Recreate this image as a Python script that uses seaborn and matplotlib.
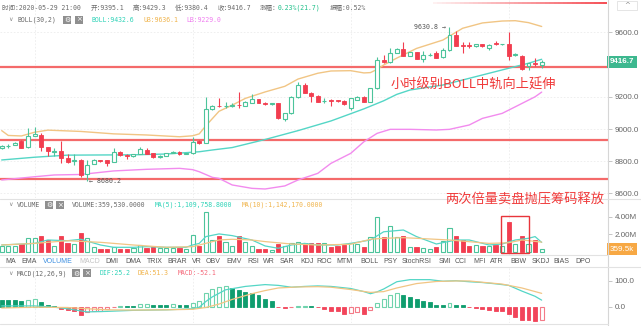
import numpy as np
import pandas as pd
import matplotlib
matplotlib.use("Agg")
import matplotlib.pyplot as plt
import seaborn as sns
from matplotlib.patches import Rectangle
from matplotlib.lines import Line2D
from matplotlib.collections import LineCollection
from matplotlib.transforms import blended_transform_factory

sns.set_style("white")
plt.rcParams["font.family"] = ["DejaVu Sans", "Noto Sans CJK SC"]

# ---------------- hourly candles (BTC/USDT) ----------------
opens = [8882, 8893, 8902, 8928, 8886, 8958, 8965, 8887, 8858, 8866,
         8820, 8803, 8808, 8722, 8784, 8805, 8805, 8797, 8856, 8840,
         8830, 8846, 8872, 8850, 8826, 8832, 8852, 8860, 8848, 8850,
         8923, 8915, 9124, 9145, 9141, 9145, 9152, 9145, 9163, 9184,
         9163, 9155, 9160, 9063, 9097, 9200, 9273, 9226, 9205, 9172,
         9182, 9176, 9174, 9130, 9182, 9200, 9170, 9253, 9428, 9414,
         9474, 9498, 9454, 9476, 9435, 9458, 9470, 9445, 9490, 9583,
         9521, 9518, 9512, 9526, 9502, 9532, 9526, 9527, 9458, 9455,
         9390, 9410, 9395.1]
highs = [8900, 8905, 8918, 8930, 9005, 9010, 8978, 8890, 8880, 8928,
         8848, 8848, 8812, 8806, 8812, 8808, 8807, 8880, 8866, 8843,
         8848, 8890, 8882, 8853, 8838, 8852, 8862, 8866, 8852, 8949,
         8930, 9200, 9150, 9190, 9170, 9162, 9232, 9175, 9215, 9188,
         9166, 9162, 9163, 9100, 9205, 9293, 9285, 9230, 9210, 9190,
         9186, 9180, 9178, 9195, 9206, 9204, 9256, 9445, 9460, 9500,
         9500, 9538, 9480, 9480, 9486, 9470, 9482, 9500, 9630.8, 9605,
         9540, 9540, 9530, 9530, 9530, 9548, 9530, 9600, 9472, 9458,
         9412, 9440, 9429.3]
lows = [8875, 8885, 8898, 8882, 8880, 8955, 8866, 8835, 8830, 8792,
        8790, 8778, 8704, 8680.2, 8780, 8798, 8770, 8795, 8835, 8812,
        8826, 8843, 8843, 8822, 8822, 8830, 8850, 8838, 8846, 8848,
        8910, 8912, 9115, 9135, 9130, 9138, 9130, 9140, 9160, 9160,
        9150, 9150, 9060, 9052, 9095, 9195, 9222, 9170, 9166, 9160,
        9143, 9165, 9148, 9120, 9178, 9168, 9168, 9250, 9410, 9410,
        9470, 9450, 9450, 9432, 9418, 9452, 9438, 9440, 9485, 9512,
        9472, 9505, 9508, 9510, 9490, 9524, 9520, 9430, 9452, 9366,
        9368, 9388, 9380.4]
closes = [8894, 8896, 8913, 8884, 8957, 8970, 8890, 8862, 8862, 8818,
          8797, 8806, 8716, 8778, 8806, 8801, 8792, 8858, 8838, 8830,
          8845, 8879, 8846, 8826, 8834, 8849, 8859, 8842, 8851, 8921,
          8913, 9122, 9142, 9141, 9144, 9150, 9146, 9170, 9184, 9163,
          9154, 9158, 9066, 9097, 9200, 9273, 9226, 9206, 9170, 9176,
          9174, 9173, 9154, 9190, 9200, 9170, 9253, 9428, 9416, 9473,
          9495, 9454, 9476, 9435, 9460, 9462, 9441, 9490, 9583, 9516,
          9515, 9516, 9525, 9512, 9524, 9527, 9528, 9453, 9468, 9372,
          9408, 9404, 9416.7]

# volume, millions
volume_m = [0.71, 0.71, 0.71, 0.90, 1.64, 1.64, 1.87, 1.38, 0.71, 1.87,
            1.01, 0.90, 2.13, 1.57, 0.56, 0.34, 0.41, 0.56, 0.34, 0.37,
            0.45, 0.82, 0.45, 0.64, 0.45, 0.45, 0.45, 0.45, 0.34, 1.94,
            0.75, 4.56, 1.38, 1.83, 1.20, 0.75, 1.87, 1.12, 0.71, 0.37,
            0.37, 0.26, 0.93, 0.71, 1.08, 1.20, 1.01, 1.08, 1.01, 1.01,
            0.64, 0.71, 0.82, 1.01, 0.90, 0.56, 1.76, 4.00, 1.76, 2.95,
            1.76, 1.83, 0.56, 0.56, 0.45, 0.37, 0.56, 1.31, 2.69, 1.83,
            1.38, 0.71, 0.82, 0.71, 0.71, 0.82, 0.71, 3.44, 0.93, 1.83,
            0.93, 1.38, 0.35953]

# MACD histogram
macd_hist = [27, 26, 24, 22, 27, 29, 18, 8, 3, -10,
             -12, -15, -30, -22, -18, -15, -10, -3, 4, 4,
             4, 10, 11, 8, 7, 6, 9, 8, 7, 16,
             22, 52, 69, 76, 78, 73, 63, 56, 52, 44,
             31, 22, -2, -4, -3, 3, 4, 2, -2, -10,
             -15, -15, -27, -23, -22, -27, -12, 14, 31, 44,
             52, 46, 37, 28, 22, 18, 8, 6, 14, 6,
             5, -3, -5, -8, -12, -15, -17, -27, -40, -50,
             -53, -56, -52.1]

# BOLL(30,2) bands, read at candle positions
ub_at = [0, 1, 3, 5, 7, 12, 17, 22, 27, 29, 30, 31, 32, 33, 35, 37, 40, 43,
         45, 48, 50, 53, 55, 56, 57, 58, 60, 63, 67, 70, 73, 76, 78, 80, 82]
ub_val = [8990, 8960, 8957, 8980, 8993, 8985, 8970, 8963, 8952, 8958, 8970,
          9020, 9065, 9110, 9148, 9190, 9230, 9265, 9310, 9346, 9360, 9362,
          9348, 9350, 9370, 9397, 9440, 9500, 9552, 9625, 9658, 9670, 9672,
          9660, 9636.1]
mid_at = [0, 5, 10, 15, 20, 25, 30, 32, 35, 40, 45, 50, 55, 58, 60, 62, 67,
          72, 77, 80, 82]
mid_val = [8808, 8825, 8838, 8839, 8840, 8845, 8859, 8870, 8885, 8935, 8990,
           9050, 9125, 9175, 9215, 9242, 9273, 9325, 9377, 9408, 9432.6]
lb_at = [0, 5, 8, 12, 17, 22, 27, 29, 30, 32, 33, 35, 38, 40, 43, 45, 48,
         50, 53, 55, 57, 59, 62, 66, 68, 71, 73, 76, 78, 81, 82]
lb_val = [8684, 8704, 8715, 8718, 8740, 8750, 8756, 8748, 8735, 8700, 8694,
          8653, 8632, 8628, 8647, 8684, 8725, 8787, 8849, 8921, 8973, 8998,
          8998, 8994, 8998, 9025, 9066, 9097, 9138, 9200, 9229.0]

# volume moving averages (millions)
ma5_at = [0, 5, 7, 10, 12, 15, 17, 20, 22, 25, 28, 29, 30, 31, 33, 35, 38,
          40, 42, 44, 46, 48, 51, 53, 56, 58, 61, 63, 66, 69, 71, 74, 76, 78,
          80, 81, 82]
ma5_val = [0.82, 1.0, 1.38, 1.3, 1.46, 0.82, 0.56, 0.56, 0.63, 0.56, 0.56,
           0.82, 1.0, 1.76, 2.06, 1.87, 1.38, 0.71, 0.45, 0.82, 1.0, 0.82,
           0.82, 1.0, 1.38, 2.3, 2.5, 1.76, 0.93, 1.38, 1.38, 0.82, 0.93,
           1.38, 1.57, 1.76, 1.1097588]
ma10_at = [0, 5, 10, 15, 20, 25, 29, 33, 35, 38, 40, 44, 48, 53, 56, 58, 61,
           63, 68, 74, 77, 79, 82]
ma10_val = [0.82, 1.0, 1.3, 1.12, 0.82, 0.56, 0.63, 1.38, 1.46, 1.38, 1.2,
            0.93, 0.82, 0.9, 1.46, 1.57, 1.64, 1.57, 1.38, 1.0, 1.07, 1.38,
            1.14217]

# MACD(12,26,9) lines
dif_at = [0, 5, 8, 10, 13, 16, 20, 25, 29, 30, 31, 32, 34, 37, 40, 42, 44,
          46, 48, 50, 53, 55, 56, 57, 58, 60, 62, 65, 67, 69, 71, 73, 75, 77,
          79, 81, 82]
dif_val = [3, 3, -2, -8, -20, -18, -14, -12, -8, -2, 20, 38, 65, 78, 85, 82,
           75, 78, 80, 78, 70, 58, 50, 57, 68, 96, 104, 104, 98, 100, 96, 93,
           88, 82, 60, 40, 25.2]
dea_at = [0, 5, 10, 13, 16, 20, 25, 29, 31, 33, 35, 38, 40, 42, 45, 48, 50,
          53, 56, 58, 60, 63, 66, 69, 71, 73, 76, 79, 82]
dea_val = [-5, -2, -3, -8, -12, -13, -12, -10, -3, 10, 28, 50, 62, 72, 76,
           77, 75, 66, 55, 58, 72, 89, 97, 99, 99, 94, 87, 72, 51.3]

# drawn levels
level_prices = [9383, 8932, 8688]
top_level = 9780
price_ticks = [8600, 8800, 9000, 9200, 9600]
last_price = 9416.7

menu_items = ["MA", "EMA", "VOLUME", "MACD", "DMI", "DMA", "TRIX", "BRAR",
              "VR", "OBV", "EMV", "RSI", "WR", "SAR", "KDJ", "ROC", "MTM",
              "BOLL", "PSY", "StochRSI", "SMI", "CCI", "MFI", "ATR", "BBW",
              "SKDJ", "BIAS", "DPO"]
menu_x = [5, 21.7, 42.7, 79.3, 105, 125, 146.7, 167.7, 191.7, 206, 226.7,
          247.3, 263.3, 280, 300, 316.7, 336.7, 360, 383.3, 401.7, 438.3,
          455, 473.3, 490, 510, 531.7, 553.3, 575]

# ---------------- styling ----------------
UP = "#4cc49b"
DOWN = "#f23d4f"
MID_C = "#54d6c6"
UB_C = "#f1c584"
LB_C = "#f28bee"
GRAY = "#6a6a6a"
LEVEL_C = "#f46a6a"
MONO = ["DejaVu Sans Mono", "Noto Sans CJK SC"]
SANS = ["Liberation Sans", "DejaVu Sans"]

W, H = 641, 326
fig = plt.figure(figsize=(W / 100, H / 100), dpi=100)
fig.patch.set_facecolor("white")


def px_axes(l, t, r, b):
    return fig.add_axes([l / W, 1 - b / H, (r - l) / W, (b - t) / H])


def ftext(x, y, s, **kw):
    kw.setdefault("va", "center")
    kw.setdefault("ha", "left")
    return fig.text(x / W, 1 - y / H, s, **kw)


def fline(x0, y0, x1, y1, **kw):
    fig.add_artist(Line2D([x0 / W, x1 / W], [1 - y0 / H, 1 - y1 / H],
                          transform=fig.transFigure, **kw))


STEP = 6.585
X0 = 1.7
xlim = (-X0 / STEP, (607.5 - X0) / STEP)
n = len(closes)
xs = np.arange(n)
o = np.array(opens, float)
c = np.array(closes, float)
hi = np.array(highs, float)
lo = np.array(lows, float)
rising = c > o
grid_x = [5, 29, 53, 77]


def style_panel(ax, ylim, ticks, labels):
    ax.set_xlim(*xlim)
    ax.set_ylim(*ylim)
    ax.set_xticks([])
    ax.yaxis.tick_right()
    ax.set_yticks(ticks)
    ax.set_yticklabels(labels, family=SANS)
    ax.tick_params(axis="y", length=3, width=0.6, color="#bdbdbd", pad=2,
                   labelsize=5.8, labelcolor="#666666")
    for s in ax.spines.values():
        s.set_visible(False)
    ax.set_xlabel("")
    ax.set_ylabel("")
    ax.patch.set_alpha(0)
    for gx in grid_x:
        ax.axvline(gx, color="#ececec", lw=0.6, ls=(0, (2, 2)), zorder=0)


# ---------------- price panel ----------------
ax = px_axes(0, 0, 607.5, 198)
price_lim = (9600 - (198 - 32.3) * 6.2035, 9600 + 32.3 * 6.2035)
for p in price_ticks:
    ax.axhline(p, color="#ececec", lw=0.6, ls=(0, (2, 2)), zorder=0)
for p in level_prices:
    ax.axhline(p, color=LEVEL_C, lw=1.6, zorder=1.5)

# fading level line near the top edge
seg_x = np.linspace(65.5, xlim[1], 40)
segs = [[(seg_x[k], top_level), (seg_x[k + 1], top_level)] for k in range(39)]
alphas = np.linspace(0.08, 1.0, 39)
lc = LineCollection(segs, colors=[(0.96, 0.3, 0.33, a) for a in alphas], lw=1.4)
ax.add_collection(lc)

sns.lineplot(x=ub_at, y=ub_val, ax=ax, color=UB_C, linewidth=1.0, zorder=2)
sns.lineplot(x=mid_at, y=mid_val, ax=ax, color=MID_C, linewidth=1.0, zorder=2)
sns.lineplot(x=lb_at, y=lb_val, ax=ax, color=LB_C, linewidth=1.0, zorder=2)

body_w = 0.6
for i in range(n):
    col = UP if rising[i] else DOWN
    ax.vlines(xs[i], lo[i], hi[i], color=col, lw=0.8, zorder=3)
bot = np.minimum(o, c)
hgt = np.maximum(np.abs(c - o), 4.0)
ax.bar(xs[rising], hgt[rising], bottom=bot[rising], width=body_w,
       facecolor="white", edgecolor=UP, linewidth=0.8, zorder=4)
ax.bar(xs[~rising], hgt[~rising], bottom=bot[~rising], width=body_w,
       facecolor=DOWN, edgecolor=DOWN, linewidth=0.6, zorder=4)
style_panel(ax, price_lim, price_ticks, [f"{p:.1f}" for p in price_ticks])

i_hi = int(np.argmax(hi))
ax.annotate(f"{hi[i_hi]:.1f} \u2192", xy=(i_hi - 0.5, hi[i_hi]), ha="right",
            va="center", fontsize=4.8, color="#555555", family=MONO)
i_lo = int(np.argmin(lo))
ax.annotate(f"\u2190 {lo[i_lo]:.1f}", xy=(i_lo + 0.3, lo[i_lo]), ha="left",
            va="center", fontsize=4.8, color="#555555", family=MONO)

btr = blended_transform_factory(ax.transAxes, ax.transData)
ax.text(1.004, last_price, f"{last_price:.1f}", transform=btr, ha="left",
        va="center", fontsize=5.8, color="white", fontweight="bold",
        family=SANS, clip_on=False, zorder=10,
        bbox=dict(boxstyle="square,pad=0.35", fc="#3db88f", ec="none"))

# ---------------- volume panel ----------------
axv = px_axes(0, 199, 607.5, 255)
vol = np.array(volume_m)
vol_lim = ((252.3 - 255) / 8.92, (252.3 - 199) / 8.92)
axv.bar(xs[rising], vol[rising], width=0.64, facecolor="white",
        edgecolor=UP, linewidth=0.8, zorder=3)
axv.bar(xs[~rising], vol[~rising], width=0.64, facecolor=DOWN,
        edgecolor=DOWN, linewidth=0.6, zorder=3)
sns.lineplot(x=ma5_at, y=ma5_val, ax=axv, color=MID_C, linewidth=0.9, zorder=4)
sns.lineplot(x=ma10_at, y=ma10_val, ax=axv, color=UB_C, linewidth=0.9, zorder=4)
style_panel(axv, vol_lim, [2, 4], ["2.00M", "4.00M"])
btv = blended_transform_factory(axv.transAxes, axv.transData)
axv.text(1.004, vol[-1], f"{vol[-1] * 1000:.1f}k", transform=btv, ha="left",
         va="center", fontsize=5.8, color="white", family=SANS,
         clip_on=False, zorder=10,
         bbox=dict(boxstyle="square,pad=0.35", fc="#f7a844", ec="none"))

# ---------------- MACD panel ----------------
axm = px_axes(0, 267, 607.5, 323)
hist = np.array(macd_hist, float)
prev = np.concatenate([[np.inf], hist[:-1]])
grow = hist > prev
for i in range(n):
    col_f = "#0f9d6e" if hist[i] >= 0 else "#f2445a"
    col_h = "#6fd3ad" if hist[i] >= 0 else "#f47b88"
    if grow[i]:
        axm.bar(xs[i], hist[i], width=0.6, facecolor="white",
                edgecolor=col_h, linewidth=0.8, zorder=3)
    else:
        axm.bar(xs[i], hist[i], width=0.6, facecolor=col_f,
                edgecolor=col_f, linewidth=0.6, zorder=3)
sns.lineplot(x=dif_at, y=dif_val, ax=axm, color=MID_C, linewidth=0.9, zorder=4)
sns.lineplot(x=dea_at, y=dea_val, ax=axm, color=UB_C, linewidth=0.9, zorder=4)
style_panel(axm, ((306.7 - 323) / 0.26, (306.7 - 267) / 0.26), [0, 100],
            ["0.0", "100.0"])

# ---------------- frame lines ----------------
fline(607.5, 0, 607.5, 326, color="#d6d6d6", lw=0.8)
fline(0, 198.5, 641, 198.5, color="#e2e2e2", lw=0.8)
fline(0, 255, 607.5, 255, color="#e2e2e2", lw=0.8)
fline(0, 267, 641, 267, color="#e2e2e2", lw=0.8)
fline(0, 323.5, 607.5, 323.5, color="#e2e2e2", lw=0.8)


# ---------------- header texts ----------------
def icon(x, y, glyph):
    fig.add_artist(Rectangle((x / W, 1 - (y + 4) / H), 8 / W, 8 / H,
                             transform=fig.transFigure, fc="#8f8f8f",
                             ec="none"))
    ftext(x + 4, y + 0.2, glyph, ha="center", fontsize=5, color="white")


hdr = dict(fontsize=4.7, family=MONO, color=GRAY)
ftext(1.7, 8, "时间:2020-05-29 21:00", **hdr)
ftext(90.7, 8, "开:9395.1", **hdr)
ftext(133, 8, "高:9429.3", **hdr)
ftext(175.3, 8, "低:9380.4", **hdr)
ftext(217.7, 8, "收:9416.7", **hdr)
ftext(260, 8, "涨幅:", **hdr)
ftext(278, 8, "0.23%(21.7)", fontsize=4.7, family=MONO, color="#21c08a")
ftext(330, 8, "振幅:0.52%", **hdr)

ftext(8, 19.5, "\u2228", fontsize=4.5, color="#8a8a8a")
ftext(17, 19.5, "BOLL(30,2)", **hdr)
icon(63, 19.5, "\u2699")
icon(75, 19.5, "\u00d7")
ftext(91.7, 19.5, "BOLL:9432.6", fontsize=4.7, family=MONO, color="#2fd3b8")
ftext(143, 19.5, "UB:9636.1", fontsize=4.7, family=MONO, color="#f0b44c")
ftext(186.7, 19.5, "LB:9229.0", fontsize=4.7, family=MONO, color="#f07ef0")

ftext(8, 205, "\u2228", fontsize=4.5, color="#8a8a8a")
ftext(17, 205, "VOLUME", **hdr)
icon(45, 205, "\u2699")
icon(56, 205, "\u00d7")
ftext(72, 205, "VOLUME:359,530.0000", **hdr)
ftext(155, 205, "MA(5):1,109,758.8000", fontsize=4.7, family=MONO,
      color="#2fd3b8")
ftext(241.7, 205, "MA(10):1,142,170.0000", fontsize=4.7, family=MONO,
      color="#f0b44c")

ftext(8, 273.3, "\u2228", fontsize=4.5, color="#8a8a8a")
ftext(16.7, 273.3, "MACD(12,26,9)", **hdr)
icon(72, 273.3, "\u2699")
icon(83, 273.3, "\u00d7")
ftext(100, 273.3, "DIF:25.2", fontsize=4.7, family=MONO, color="#2fd3b8")
ftext(138, 273.3, "DEA:51.3", fontsize=4.7, family=MONO, color="#f0b44c")
ftext(178, 273.3, "MACD:-52.1", fontsize=4.7, family=MONO, color="#f5697a")

for name, mx in zip(menu_items, menu_x):
    colr = "#555555"
    if name == "VOLUME":
        colr = "#3d8fe0"
    elif name == "MACD":
        colr = "#c4c4c4"
    ftext(mx, 261.3, name, fontsize=5.0, family=SANS, color=colr)

# collapse button, top right
fig.add_artist(Rectangle((617 / W, 1 - 10 / H), 20 / W, 9 / H,
                         transform=fig.transFigure, fc="white",
                         ec="#e0e0e0", lw=0.6))
ftext(627, 5.5, "^", ha="center", fontsize=5, color="#888888")

# ---------------- notes ----------------
ftext(391, 85, "小时级别BOLL中轨向上延伸", fontsize=9.5, color="#f03a3a",
      family=["Noto Sans CJK SC"], fontweight="light", zorder=20)
ftext(445, 200, "两次倍量卖盘抛压筹码释放", fontsize=9.5, color="#f03a3a",
      family=["Noto Sans CJK SC"], fontweight="light", zorder=20)
fig.add_artist(Rectangle((501 / W, 1 - 253.3 / H), 28.3 / W, 37.3 / H,
                         transform=fig.transFigure, fill=False,
                         ec="#e8353b", lw=1.0, zorder=20))

fig.savefig("out.png", dpi=100, facecolor="white")
